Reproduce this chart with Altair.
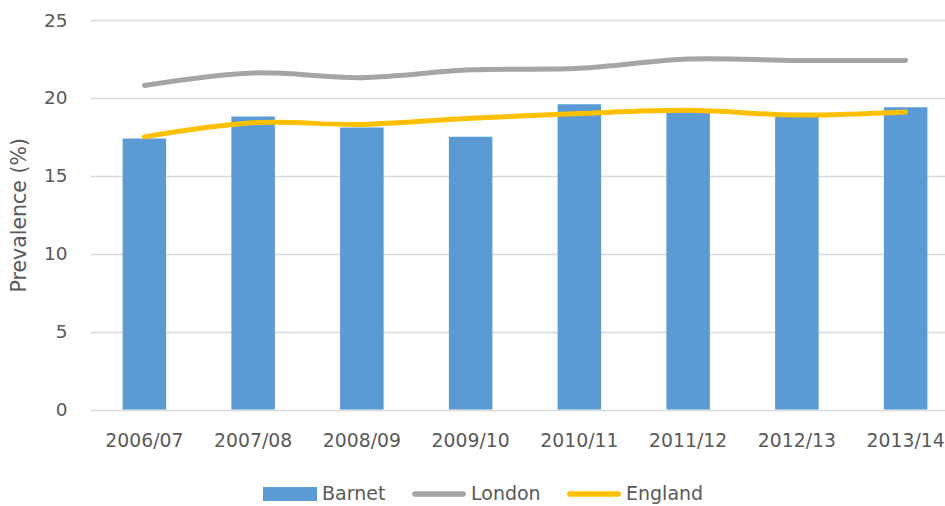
import altair as alt
import pandas as pd

years = ["2006/07", "2007/08", "2008/09", "2009/10", "2010/11", "2011/12", "2012/13", "2013/14"]
barnet = [17.4, 18.8, 18.1, 17.5, 19.6, 19.2, 18.9, 19.4]
london = [20.8, 21.6, 21.3, 21.8, 21.9, 22.5, 22.4, 22.4]
england = [17.5, 18.4, 18.3, 18.7, 19.0, 19.2, 18.9, 19.1]
series_names = ["Barnet", "London", "England"]
series_colors = ["#5B9BD5", "#A5A5A5", "#FFC000"]
y_ticks = [0, 5, 10, 15, 20, 25]

rows = []
for name, vals in zip(series_names, [barnet, london, england]):
    for yr, v in zip(years, vals):
        rows.append({"year": yr, "series": name, "value": v})
df = pd.DataFrame(rows)

FONT = "DejaVu Sans"
TXT = "#595959"

x = alt.X(
    "year:N", sort=years,
    scale=alt.Scale(range=[0, 870], paddingInner=0.6, paddingOuter=0.3),
    axis=alt.Axis(title=None, labelAngle=0, labelFontSize=18.8, labelFont=FONT, labelColor=TXT,
                  labelPadding=22, ticks=False, domain=False, grid=False, labelOverlap=False),
)
y = alt.Y(
    "value:Q",
    scale=alt.Scale(domain=[0, 25], nice=False),
    axis=alt.Axis(title="Prevalence (%)", values=y_ticks, labelFontSize=18.5, labelFont=FONT,
                  labelColor=TXT, labelPadding=23, ticks=False, domain=False,
                  gridColor="#D9D9D9", gridWidth=1.3, titleFontSize=20.5, titleFont=FONT,
                  titleColor=TXT, titleFontWeight="normal", titlePadding=14),
)

base = alt.Chart(df)

bars = base.transform_filter(alt.datum.series == "Barnet").mark_bar(color=series_colors[0]).encode(x=x, y=y)
lon = base.transform_filter(alt.datum.series == "London").mark_line(
    color=series_colors[1], strokeWidth=5, interpolate="catmull-rom", strokeCap="round"
).encode(x=x, y=y)
eng = base.transform_filter(alt.datum.series == "England").mark_line(
    color=series_colors[2], strokeWidth=5, interpolate="catmull-rom", strokeCap="round"
).encode(x=x, y=y)

rect_path = "M-1,-0.26H1V0.26H-1Z"
line_path = "M-0.9,-0.1H0.9A0.1,0.1,0,0,1,0.9,0.1H-0.9A0.1,0.1,0,0,1,-0.9,-0.1Z"

legend_layer = base.mark_point(filled=True, size=0, opacity=1).encode(
    x=x, y=y,
    color=alt.Color("series:N", scale=alt.Scale(domain=series_names, range=series_colors),
                    legend=alt.Legend(title=None, orient="none", direction="horizontal",
                                      legendX=173, legendY=447, symbolSize=2916,
                                      symbolOpacity=1, symbolStrokeWidth=0,
                                      labelFontSize=19, labelFont=FONT, labelColor=TXT,
                                      labelOffset=5, columnPadding=26)),
    shape=alt.Shape("series:N", scale=alt.Scale(domain=series_names,
                                                range=[rect_path, line_path, line_path])),
)

chart = alt.layer(bars, lon, eng, legend_layer).properties(
    width=855, height=389.5,
    autosize=alt.AutoSizeParams(type="none"),
    padding={"left": 90, "top": 20, "right": 0, "bottom": 96.5},
).configure_view(stroke=None)

chart.save("out.html", embed_options={"renderer": "svg", "actions": False})
